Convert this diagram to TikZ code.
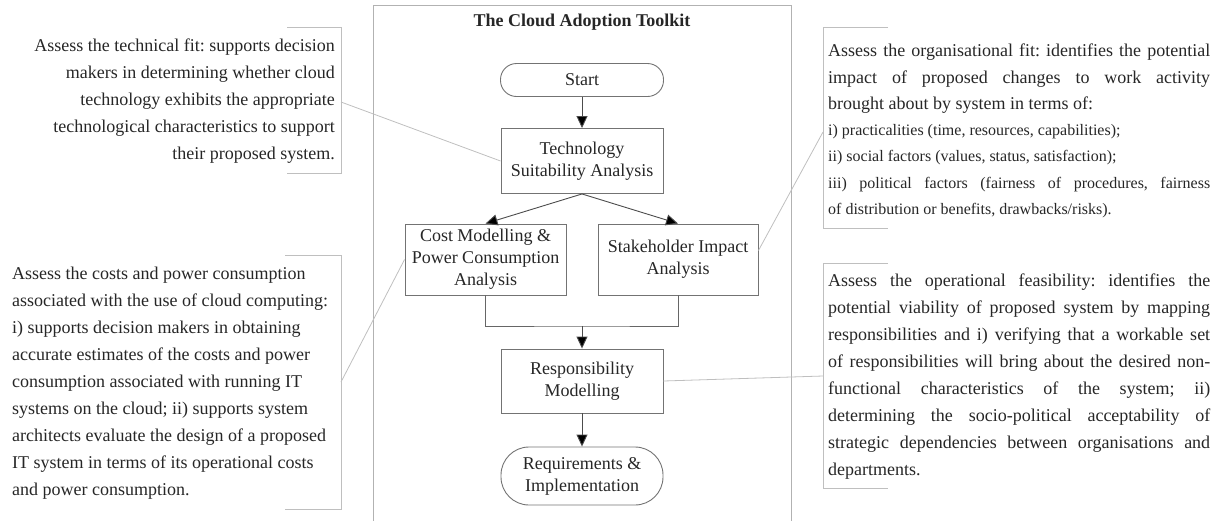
\documentclass[tikz,border=0pt]{standalone}
\usepackage{fontspec}
\setmainfont{Liberation Serif}
\usetikzlibrary{arrows.meta,calc}
\frenchspacing
\newcommand\jline[1]{\makebox[382pt][s]{#1}}

\begin{document}
\begin{tikzpicture}[x=1pt, y=-1pt,
  box/.style={draw=black!55, line width=0.9pt, align=flush center, inner sep=0pt, text=black!85, font=\fontsize{18}{22}\selectfont},
  flow/.style={draw=black!70, line width=0.9pt, -{Triangle[length=12pt,width=11pt,fill=black]}},
  link/.style={draw=black!60, line width=0.9pt},
  note/.style={draw=black!25, line width=0.8pt},
  notetext/.style={inner sep=0pt, text=black!85, font=\fontsize{18}{27}\selectfont}]
\useasboundingbox (0,0) rectangle (1222,520);
\draw[draw=black!30, line width=0.9pt] (373,540) -- (373,5) -- (791,5) -- (791,540);
\node[font=\bfseries\fontsize{18}{22}\selectfont, text=black!85] (title) at (582,22) {The Cloud Adoption Toolkit};

\node[box, rounded corners=16pt, minimum width=163pt, minimum height=33pt] (start) at (582,80) {Start};
\node[box, minimum width=162pt, minimum height=65pt] (tsa) at (582,161) {Technology\\Suitability Analysis};
\node[box, minimum width=161pt, minimum height=71pt] (cost) at (485.5,259.5) {Cost Modelling \&\\Power Consumption\\Analysis};
\node[box, minimum width=160pt, minimum height=71pt] (stake) at (678,259.5) {Stakeholder Impact\\Analysis};
\node[box, minimum width=162pt, minimum height=64pt] (resp) at (582,381) {Responsibility\\Modelling};
\node[box, rounded corners=28pt, minimum width=162pt, minimum height=58pt] (req) at (582,476) {Requirements \&\\Implementation};

\coordinate (join) at (582,326);
\draw[flow] (start) -- (tsa);
\draw[flow] (tsa.south) -- (cost.north);
\draw[flow] (tsa.south) -- (stake.north);
\draw[link] (cost.south) |- (join) -| (stake.south);
\draw[flow] (join) -- (resp);
\draw[flow] (resp) -- (req);

\node[notetext, anchor=east, align=flush right] (techfit) at (335,101.5) {Assess the technical fit: supports decision\\makers in determining whether cloud\\technology exhibits the appropriate\\technological characteristics to support\\their proposed system.};
\draw[note] (287,27) -| (341,173) -- (287,173);
\coordinate (techpin) at (341,102);
\draw[note] (techpin) -- (tsa.west);

\node[notetext, anchor=west, align=flush left] (costfit) at (12,383) {Assess the costs and power consumption\\associated with the use of cloud computing:\\i) supports decision makers in obtaining\\accurate estimates of the costs and power\\consumption associated with running IT\\systems on the cloud; ii) supports system\\architects evaluate the design of a proposed\\IT system in terms of its operational costs\\and power consumption.};
\draw[note] (285,255) -| (341,509) -- (285,509);
\coordinate (costpin) at (341,382);
\draw[note] (costpin) -- (cost.west);

\node[notetext, anchor=west, text width=382pt, align=flush left, font=\fontsize{18}{26.3}\selectfont] (orgfit) at (828,131) {\noindent\jline{Assess the organisational fit: identifies the potential}\\\jline{impact of proposed changes to work activity}\\brought about by system in terms of:\\{\fontsize{16}{26.3}\selectfont i) practicalities (time, resources, capabilities);}\\{\fontsize{16}{26.3}\selectfont ii) social factors (values, status, satisfaction);}\\{\fontsize{16}{26.3}\selectfont\jline{iii) political factors (fairness of procedures, fairness}}\\{\fontsize{16}{26.3}\selectfont of distribution or benefits, drawbacks/risks).}};
\draw[note] (888,27) -| (823,228) -- (888,228);
\coordinate (orgpin) at (823,132);
\draw[note] (orgpin) -- ($(stake.east)+(0,-9)$);

\node[notetext, anchor=west, text width=382pt, align=flush left] (opfit) at (828,377) {\noindent\jline{Assess the operational feasibility: identifies the}\\\jline{potential viability of proposed system by mapping}\\\jline{responsibilities and i) verifying that a workable set}\\\jline{of responsibilities will bring about the desired non-}\\\jline{functional characteristics of the system; ii)}\\\jline{determining the socio-political acceptability of}\\\jline{strategic dependencies between organisations and}\\departments.};
\draw[note] (888,263) -| (823,488) -- (888,488);
\coordinate (oppin) at (823,376);
\draw[note] (oppin) -- (resp.east);
\end{tikzpicture}
\end{document}
